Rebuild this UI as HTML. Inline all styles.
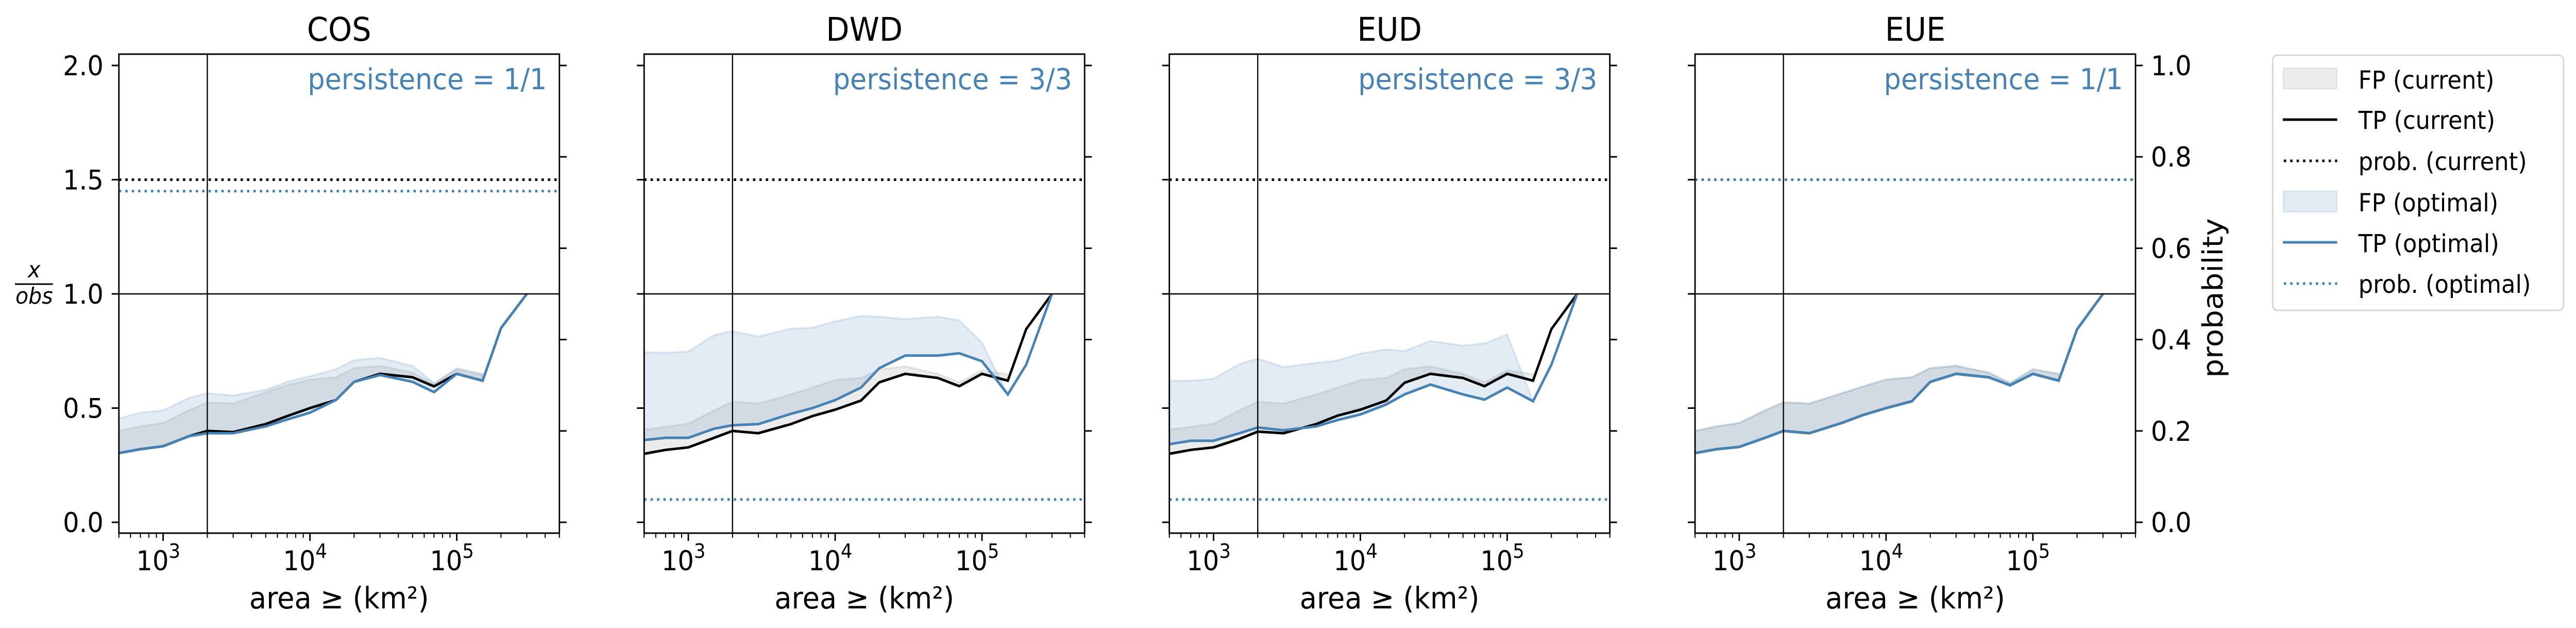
<!DOCTYPE html>
<html><head><meta charset="utf-8">
<style>
html,body{margin:0;padding:0;background:#fff;width:100%;height:100%;overflow:hidden;}
svg{display:block;width:100vw;height:100vh;font-family:"DejaVu Sans","Liberation Sans",sans-serif;}
</style></head>
<body>
<svg id="chart" viewBox="0 0 5351 1218" preserveAspectRatio="none" xmlns="http://www.w3.org/2000/svg">
<g id="panels"></g>
<g id="legend">
  <rect x="4721" y="107" width="604" height="495" rx="10" fill="#fff" stroke="#d6d6d6" stroke-width="3"/>
  <g>
    <rect x="4743" y="132" width="111" height="40" fill="#808080" fill-opacity="0.15" stroke="#808080" stroke-opacity="0.15" stroke-width="3"/>
    <text x="4899" y="172" font-size="48">FP (current)</text></g>
  <g>
    <line x1="4742" y1="232" x2="4855" y2="232" stroke="#000" stroke-width="5"/>
    <text x="4899" y="250" font-size="48">TP (current)</text></g>
  <g>
    <line x1="4744" y1="312" x2="4855" y2="312" stroke="#000" stroke-width="5" stroke-dasharray="5 8.3"/>
    <text x="4899" y="330" font-size="48">prob. (current)</text></g>
  <g>
    <rect x="4743" y="371" width="111" height="40" fill="#4682b4" fill-opacity="0.15" stroke="#4682b4" stroke-opacity="0.15" stroke-width="3"/>
    <text x="4899" y="410" font-size="48">FP (optimal)</text></g>
  <g>
    <line x1="4742" y1="470" x2="4855" y2="470" stroke="#4682b4" stroke-width="5"/>
    <text x="4899" y="489" font-size="48">TP (optimal)</text></g>
  <g>
    <line x1="4744" y1="550" x2="4855" y2="550" stroke="#4682b4" stroke-width="5" stroke-dasharray="5 8.3"/>
    <text x="4899" y="568" font-size="48">prob. (optimal)</text></g>
</g>
</svg>
<script>
const NS = "http://www.w3.org/2000/svg";
// ---- data ----
const areas = [500,700,1000,1500,2000,3000,5000,7000,10000,15000,20000,30000,50000,70000,100000,150000,200000,300000];
const panelNames = ["COS","DWD","EUD","EUE"];
const persistenceLabels = ["persistence = 1/1","persistence = 3/3","persistence = 3/3","persistence = 1/1"];
const tpCurrentCOS = [0.303,0.32,0.333,0.377,0.40,0.395,0.43,0.465,0.50,0.535,0.615,0.65,0.635,0.595,0.65,0.62,0.85,1.0];
const tpOptimalCOS = [0.303,0.32,0.333,0.377,0.39,0.39,0.42,0.45,0.48,0.535,0.615,0.645,0.615,0.57,0.65,0.62,0.85,1.0];
const fpCurrentCOS = [0.40,0.42,0.435,0.49,0.525,0.52,0.57,0.60,0.625,0.635,0.675,0.685,0.655,0.605,0.67,0.645];
const fpOptimalCOS = [0.455,0.48,0.49,0.545,0.565,0.555,0.58,0.615,0.64,0.67,0.71,0.72,0.685,0.61,0.675,0.65];
const tpCurrentDWD = [0.30,0.317,0.328,0.37,0.40,0.39,0.43,0.465,0.493,0.533,0.613,0.65,0.632,0.596,0.65,0.62,0.846,1.0];
const tpOptimalDWD = [0.36,0.37,0.37,0.41,0.425,0.43,0.475,0.50,0.535,0.59,0.675,0.73,0.73,0.74,0.705,0.56,0.69,1.0];
const fpCurrentDWD = [0.406,0.418,0.432,0.49,0.528,0.52,0.56,0.59,0.623,0.632,0.67,0.683,0.65,0.613,0.665,0.648];
const fpOptimalDWD = [0.745,0.742,0.748,0.82,0.837,0.813,0.848,0.852,0.88,0.904,0.90,0.89,0.90,0.884,0.787,0.56];
const tpCurrentEUD = [0.30,0.317,0.328,0.365,0.397,0.39,0.43,0.467,0.493,0.533,0.611,0.65,0.632,0.596,0.65,0.62,0.846,1.0];
const tpOptimalEUD = [0.342,0.357,0.357,0.39,0.415,0.403,0.42,0.448,0.472,0.516,0.56,0.603,0.56,0.537,0.59,0.53,0.69,1.0];
const fpCurrentEUD = [0.406,0.418,0.432,0.49,0.528,0.52,0.56,0.59,0.623,0.632,0.67,0.683,0.65,0.613,0.665,0.648];
const fpOptimalEUD = [0.62,0.62,0.629,0.693,0.717,0.68,0.698,0.709,0.739,0.757,0.75,0.794,0.774,0.783,0.823,0.53];
const tpCurrentEUE = [0.303,0.32,0.33,0.37,0.40,0.39,0.435,0.47,0.50,0.53,0.615,0.65,0.635,0.60,0.65,0.62,0.845,1.0];
const tpOptimalEUE = [0.303,0.32,0.33,0.37,0.40,0.39,0.435,0.47,0.50,0.53,0.615,0.65,0.635,0.60,0.65,0.62,0.845,1.0];
const fpCurrentEUE = [0.40,0.42,0.435,0.49,0.525,0.52,0.565,0.595,0.625,0.635,0.675,0.685,0.655,0.61,0.67,0.65];
const fpOptimalEUE = [0.40,0.42,0.435,0.49,0.525,0.52,0.565,0.595,0.625,0.635,0.675,0.685,0.655,0.61,0.67,0.65];
const probCurrent = [0.75,0.75,0.75,0.75];
const probOptimal = [0.725,0.05,0.05,0.75];
const leftTicks = [0,0.5,1.0,1.5,2.0];
const leftTickLabels = ["0.0","0.5","1.0","1.5","2.0"];
const rightTicks = [0,0.2,0.4,0.6,0.8,1.0];
const rightTickLabels = ["0.0","0.2","0.4","0.6","0.8","1.0"];
const xMajorTicks = [3,4,5];
const thresholdArea = 2000;

const tpC=[tpCurrentCOS,tpCurrentDWD,tpCurrentEUD,tpCurrentEUE];
const tpO=[tpOptimalCOS,tpOptimalDWD,tpOptimalEUD,tpOptimalEUE];
const fpC=[fpCurrentCOS,fpCurrentDWD,fpCurrentEUD,fpCurrentEUE];
const fpO=[fpOptimalCOS,fpOptimalDWD,fpOptimalEUD,fpOptimalEUE];

// ---- layout ----
const panelLeft=[247,1338,2429,3521], W=915, TOP=105, BOTTOM=1034;
const Y0=1013, YU=443;
const XMIN=Math.log10(500), XMAX=Math.log10(500000);
const root=document.getElementById('panels');
function el(tag,attrs,parent,txt){const e=document.createElementNS(NS,tag);for(const k in attrs)e.setAttribute(k,attrs[k]);if(txt!==undefined)e.textContent=txt;(parent||root).appendChild(e);return e;}

panelNames.forEach((name,p)=>{
  const L=panelLeft[p], R=L+W;
  const xs=v=>L+(Math.log10(v)-XMIN)/(XMAX-XMIN)*W;
  const ys=v=>Y0-v*YU;
  const yp=v=>ys(2*v);
  const g=el('g',{});
  
  
  const cp=el('clipPath',{id:'clip'+p},g); el('rect',{x:L,y:TOP,width:W,height:BOTTOM-TOP},cp);
  const plot=el('g',{'clip-path':'url(#clip'+p+')'},g);
  function band(up,low,color,nm){
    const n=up.length;let d='';
    for(let i=0;i<n;i++)d+=(i?'L':'M')+xs(areas[i])+','+ys(up[i]);
    for(let i=n-1;i>=0;i--)d+='L'+xs(areas[i])+','+ys(low[i]);
    const b=el('path',{d:d+'Z',fill:color,'fill-opacity':0.15,stroke:color,'stroke-opacity':0.15,'stroke-width':4},plot);
    
    
  }
  band(fpC[p],tpC[p],'#808080','fp-current-band');
  band(fpO[p],tpO[p],'#4682b4','fp-optimal-band');
  function line(vals,color,nm){
    const pts=vals.map((v,i)=>xs(areas[i])+','+ys(v)).join(' ');
    const l=el('polyline',{points:pts,fill:'none',stroke:color,'stroke-width':5,'stroke-linejoin':'miter'},plot);
    
    
  }
  line(tpC[p],'#000','tp-current-line');
  line(tpO[p],'#4682b4','tp-optimal-line');
  const h=el('line',{x1:L,x2:R,y1:ys(1),y2:ys(1),stroke:'#000','stroke-width':2.5},plot);
  
  
  const v=el('line',{x1:xs(thresholdArea),x2:xs(thresholdArea),y1:TOP,y2:BOTTOM,stroke:'#000','stroke-width':2.5},plot);
  
  
  const pc=el('line',{x1:L,x2:R,y1:yp(probCurrent[p]),y2:yp(probCurrent[p]),stroke:'#000','stroke-width':5,'stroke-dasharray':'5 8.3'},plot);
  
  
  const po=el('line',{x1:L,x2:R,y1:yp(probOptimal[p]),y2:yp(probOptimal[p]),stroke:'#4682b4','stroke-width':5,'stroke-dasharray':'5 8.3'},plot);
  
  
  const sp=el('rect',{x:L,y:TOP,width:W,height:BOTTOM-TOP,fill:'none',stroke:'#000','stroke-width':3},g);
  
  
  leftTicks.forEach((t,i)=>{
    el('line',{x1:L-15,x2:L,y1:ys(t),y2:ys(t),stroke:'#000','stroke-width':3},g);
    if(p===0){const tl=el('text',{x:L-32,y:ys(t)+19,'font-size':53,'text-anchor':'end'},g,leftTickLabels[i]);
      
      }
  });
  rightTicks.forEach((t,i)=>{
    el('line',{x1:R,x2:R+15,y1:yp(t),y2:yp(t),stroke:'#000','stroke-width':3},g);
    if(p===3){const tl=el('text',{x:R+32,y:yp(t)+19,'font-size':53},g,rightTickLabels[i]);
      
      }
  });
  for(let e=2;e<=5;e++)for(let m=1;m<=9;m++){
    const val=m*Math.pow(10,e); const lv=Math.log10(val);
    if(lv<XMIN-1e-9||lv>XMAX+1e-9)continue;
    el('line',{x1:xs(val),x2:xs(val),y1:BOTTOM,y2:BOTTOM+(m===1?15:9),stroke:'#000','stroke-width':m===1?3:2.2},g);
  }
  xMajorTicks.forEach(e=>{
    const t=el('text',{x:xs(Math.pow(10,e))-10,y:1106,'font-size':53,'text-anchor':'middle'},g);
    
    
    el('tspan',{},t,'10');
    el('tspan',{dy:-24,'font-size':38},t,String(e));
  });
  const xl=el('text',{x:L+W/2,y:1180,'font-size':58,'text-anchor':'middle'},g,'area ≥ (km²)');
  
  
  const tt=el('text',{x:L+W/2,y:79,'font-size':63,'text-anchor':'middle'},g,name);
  
  
  const ps=el('text',{x:R-26,y:173,'font-size':56,'text-anchor':'end',fill:'#4682b4'},g,persistenceLabels[p]);
  
  
});
const ylab=el('g',{});


el('text',{x:71,y:538,'font-size':44,'font-style':'italic','text-anchor':'middle'},ylab,'x');
el('line',{x1:31,x2:110,y1:551,y2:551,stroke:'#000','stroke-width':3},ylab);
el('text',{x:71,y:589,'font-size':44,'font-style':'italic','text-anchor':'middle'},ylab,'obs');
const pl=el('text',{x:0,y:0,'font-size':58,'text-anchor':'middle',transform:'translate(4617,578) rotate(-90)'});


pl.textContent='probability';
</script>
</body></html>
